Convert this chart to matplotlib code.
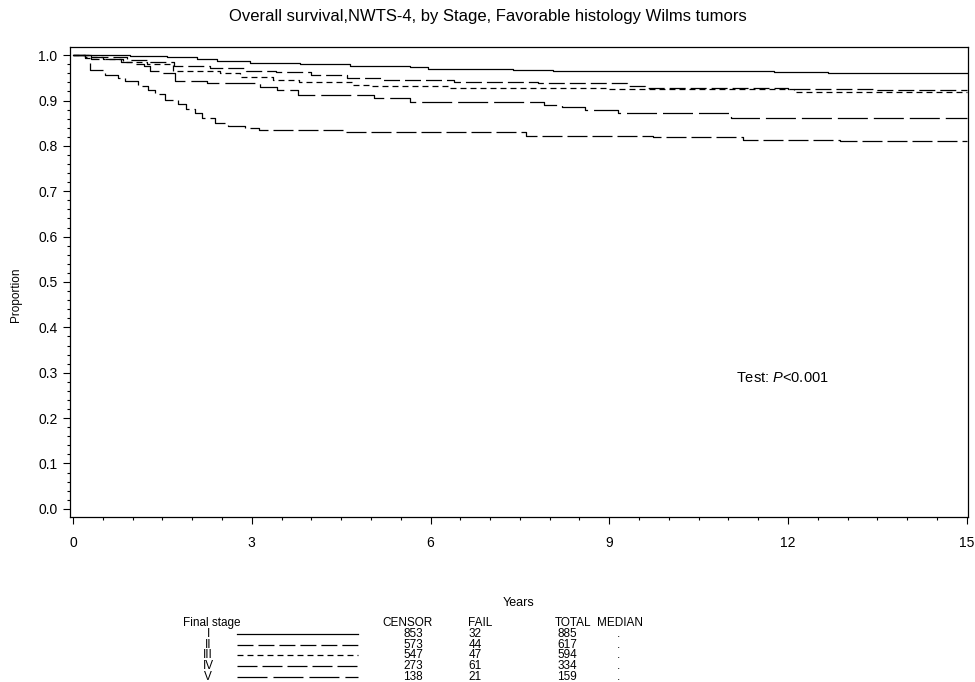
import numpy as np
import matplotlib
matplotlib.use("Agg")
import matplotlib.pyplot as plt
from matplotlib.lines import Line2D
from matplotlib.ticker import MultipleLocator, FormatStrFormatter

plt.rcParams['font.family'] = ['Liberation Sans', 'DejaVu Sans']
plt.rcParams['mathtext.fontset'] = 'custom'
plt.rcParams['mathtext.it'] = 'Liberation Sans:italic'
plt.rcParams['mathtext.rm'] = 'Liberation Sans'
plt.rcParams['lines.scale_dashes'] = False

# Kaplan-Meier steps (years, survival)
stages = ['I', 'II', 'III', 'IV', 'V']

t_I = [0, 0.96, 1.58, 2.08, 2.42, 2.97, 3.81, 4.65, 5.66, 5.96, 7.39, 8.05, 11.76, 12.67, 15]
s_I = [1.0, 0.998, 0.995, 0.991, 0.987, 0.983, 0.980, 0.977, 0.974, 0.970, 0.968, 0.965, 0.962, 0.960, 0.960]

t_II = [0, 0.3, 0.9, 1.3, 1.7, 2.3, 2.9, 3.4, 4.0, 4.6, 5.2, 6.4, 7.8, 9.3, 9.6, 12.0, 13.5, 15]
s_II = [1.0, 0.995, 0.990, 0.985, 0.977, 0.972, 0.965, 0.962, 0.956, 0.950, 0.946, 0.941, 0.938, 0.932, 0.928, 0.925, 0.923, 0.923]

t_III = [0, 0.2, 0.5, 0.84, 1.24, 1.68, 2.47, 2.8, 3.36, 3.8, 4.7, 5.0, 6.3, 9.0, 12.1, 15]
s_III = [1.0, 0.996, 0.992, 0.985, 0.980, 0.966, 0.960, 0.952, 0.945, 0.941, 0.934, 0.932, 0.928, 0.925, 0.918, 0.918]

t_IV = [0, 0.2, 0.29, 0.54, 0.76, 0.87, 1.09, 1.26, 1.38, 1.55, 1.76, 1.9, 2.05, 2.17, 2.39, 2.6,
        2.89, 3.13, 4.54, 7.6, 9.74, 11.25, 12.88, 15]
s_IV = [1.0, 0.993, 0.968, 0.957, 0.949, 0.942, 0.933, 0.924, 0.914, 0.902, 0.892, 0.882, 0.872, 0.861,
        0.850, 0.844, 0.840, 0.836, 0.831, 0.822, 0.820, 0.814, 0.811, 0.811]

t_V = [0, 0.3, 0.8, 1.0, 1.2, 1.3, 1.45, 1.72, 2.25, 3.14, 3.42, 3.78, 5.05, 5.66, 7.9, 8.2, 8.6, 9.14, 11.04, 15]
s_V = [1.0, 0.992, 0.986, 0.981, 0.976, 0.964, 0.960, 0.943, 0.938, 0.930, 0.923, 0.913, 0.905, 0.897,
       0.891, 0.886, 0.879, 0.872, 0.862, 0.862]

censor = [853, 573, 547, 273, 138]
fail = [32, 44, 47, 61, 21]
total = [885, 617, 594, 334, 159]
median = ['.', '.', '.', '.', '.']

styles = ['-', (0, (11.5, 3.6)), (0, (4.3, 2.9)), (0, (14.4, 3.6)), (0, (21.6, 4.3))]

curves = [(t_I, s_I), (t_II, s_II), (t_III, s_III), (t_IV, s_IV), (t_V, s_V)]

W, H = 975, 682
fig = plt.figure(figsize=(W / 100, H / 100), dpi=100)
ax = fig.add_axes([70 / W, 1 - 517 / H, 898 / W, 470 / H])

for (t, s), ls in zip(curves, styles):
    ax.step(t, s, where='post', color='black', lw=0.9, linestyle=ls)

ax.set_xlim(-0.05, 15.02)
ax.set_ylim(-0.018, 1.018)
ax.xaxis.set_major_locator(MultipleLocator(3))
ax.xaxis.set_minor_locator(MultipleLocator(0.5))
ax.yaxis.set_major_locator(MultipleLocator(0.1))
ax.yaxis.set_minor_locator(MultipleLocator(0.02))
ax.yaxis.set_major_formatter(FormatStrFormatter('%.1f'))
ax.tick_params(axis='both', which='major', direction='out', length=5, width=0.8, labelsize=10)
ax.tick_params(axis='both', which='minor', direction='out', length=2.5, width=0.8)
ax.tick_params(axis='x', which='major', pad=9)
ax.tick_params(axis='y', which='major', pad=4)
for sp in ax.spines.values():
    sp.set_linewidth(0.9)

ax.text(11.12, 0.289, 'Test: $\\mathit{P}$<0.001', fontsize=10.5, va='center', ha='left')

fig.text(0.5, 1 - 16 / H, 'Overall survival,NWTS-4, by Stage, Favorable histology Wilms tumors',
         ha='center', va='center', fontsize=12)
fig.text(16 / W, 1 - 295 / H, 'Proportion', rotation=90, ha='center', va='center', fontsize=8.5)
fig.text(519 / W, 1 - 603 / H, 'Years', ha='center', va='center', fontsize=9)

# table under the chart
fs = 8.5
y_head = 623
row_h = 10.8
fig.text(183 / W, 1 - y_head / H, 'Final stage', ha='left', va='center', fontsize=fs)
fig.text(382 / W, 1 - y_head / H, 'CENSOR', ha='left', va='center', fontsize=fs)
fig.text(468 / W, 1 - y_head / H, 'FAIL', ha='left', va='center', fontsize=fs)
fig.text(555 / W, 1 - y_head / H, 'TOTAL', ha='left', va='center', fontsize=fs)
fig.text(597 / W, 1 - y_head / H, 'MEDIAN', ha='left', va='center', fontsize=fs)
for i, st in enumerate(stages):
    yy = 1 - (y_head + row_h * (i + 1)) / H
    fig.text(208 / W, yy, st, ha='center', va='center', fontsize=fs)
    fig.add_artist(Line2D([237 / W, 358 / W], [yy, yy], transform=fig.transFigure,
                          color='black', lw=0.9, linestyle=styles[i]))
    fig.text(423 / W, yy, str(censor[i]), ha='right', va='center', fontsize=fs)
    fig.text(482 / W, yy, str(fail[i]), ha='right', va='center', fontsize=fs)
    fig.text(577 / W, yy, str(total[i]), ha='right', va='center', fontsize=fs)
    fig.text(618 / W, yy, median[i], ha='center', va='center', fontsize=fs)

fig.savefig('out.png', dpi=100)
